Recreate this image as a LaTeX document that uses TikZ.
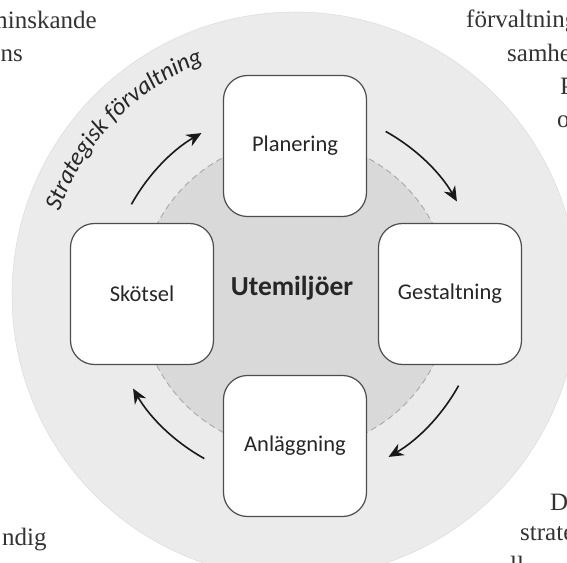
\documentclass[tikz,border=0pt]{standalone}
\usepackage{fontspec}
\setmainfont{Liberation Serif}
\newfontfamily\carl{Carlito}
\usetikzlibrary{decorations.text,arrows.meta}
\definecolor{outerfill}{HTML}{EBEBEB}
\definecolor{innerfill}{HTML}{D9D9D9}
\definecolor{dashcol}{HTML}{A8A8A8}
\definecolor{boxline}{HTML}{4D4D4D}
\definecolor{txt}{HTML}{262626}
\definecolor{pagetxt}{HTML}{333333}
\tikzset{
  stagebox/.style={draw=boxline, line width=1.2pt, fill=white, rounded corners=24pt,
    minimum width=143pt, minimum height=141pt, text=txt,
    font=\carl\fontsize{22.5}{26}\selectfont},
  cyclearrow/.style={line width=1.6pt, black!90, -{Stealth[length=15pt,width=13pt]}},
  pagefrag/.style={inner sep=0pt, text=pagetxt, font=\fontsize{25}{29}\selectfont}
}
\begin{document}
\begin{tikzpicture}[x=1pt,y=1pt]
\useasboundingbox (-295,-267) rectangle (272,295);
% circles
\fill[outerfill] (0,0) circle (283);
\draw[black!14, line width=0.5pt] (0,0) circle (283);
\fill[innerfill] (0,0) circle (155);
\draw[dashcol, line width=0.9pt, dash pattern=on 6pt off 4pt] (0,0) circle (155);
% boxes
\node[stagebox] (pl) at (0,149) {Planering};
\node[stagebox] (sk) at (-153,1) {Skötsel};
\node[stagebox] (ge) at (155,1) {Gestaltning};
\node[stagebox] (an) at (0,-151) {Anläggning};
\node[text=txt, font=\carl\bfseries\fontsize{27.5}{32}\selectfont] (ut) at (-3,7) {Utemiljöer};
% arrows
\draw[cyclearrow] (151:187) arc[start angle=151, end angle=120, radius=187];
\draw[cyclearrow] (61:187) arc[start angle=61, end angle=30, radius=187];
\draw[cyclearrow] (-29:187) arc[start angle=-29, end angle=-60, radius=187];
\draw[cyclearrow] (241:187) arc[start angle=241, end angle=210, radius=187];
% ring label
\path[decorate, decoration={text along path, text align=center,
  text={|\carl\itshape\fontsize{24.5}{28}\selectfont\color{txt}|Strategisk förvaltning}}]
  (166:250) arc[start angle=166, end angle=106, radius=250];
% page text fragments
\node[pagefrag, anchor=base east] (f1) at (-198,266) {minskande};
\node[pagefrag, anchor=base east] (f2) at (-272,233) {ns};
\node[pagefrag, anchor=base west] (f3) at (171,267) {förvaltning};
\node[pagefrag, anchor=base west] (f4) at (212,233) {samhe};
\node[pagefrag, anchor=base west] (f5) at (265,200) {P};
\node[pagefrag, anchor=base west] (f6) at (262,167) {o};
\node[pagefrag, anchor=base west] (f7) at (-293,-250) {ndig};
\node[pagefrag, anchor=base west] (f8) at (255,-215) {D};
\node[pagefrag, anchor=base west] (f9) at (225,-245) {strate};
\node[pagefrag, anchor=base west] (f10) at (215,-278) {ll};
\end{tikzpicture}
\end{document}
